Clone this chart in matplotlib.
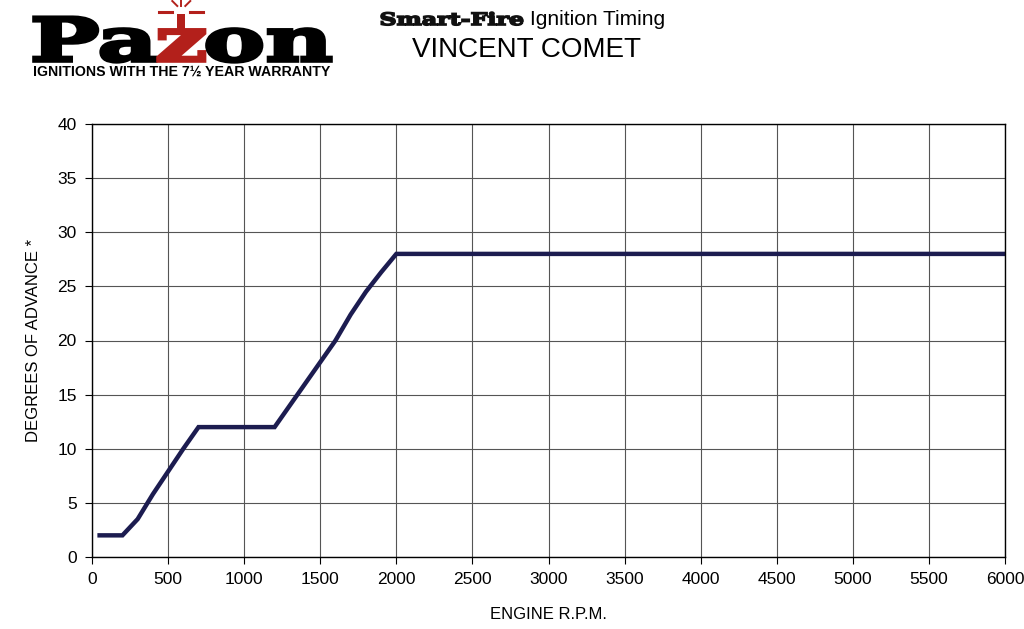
import matplotlib.pyplot as plt
from matplotlib.textpath import TextPath
from matplotlib.patches import PathPatch, Rectangle
from matplotlib.font_manager import FontProperties
from matplotlib.transforms import Affine2D

# advance curve
rpm = [50, 200, 300, 400, 500, 600, 700, 1200, 1300, 1400, 1500, 1600, 1700, 1800, 1900, 2000, 6000]
advance = [2, 2, 3.5, 5.8, 7.9, 10, 12, 12, 14, 16, 18, 20, 22.4, 24.5, 26.3, 28, 28]

x_ticks = list(range(0, 6001, 500))
y_ticks = list(range(0, 41, 5))

plt.rcParams['font.family'] = ['Liberation Sans', 'DejaVu Sans']

fig = plt.figure(figsize=(10.24, 6.29), dpi=100)

# overlay in pixel units for the header artwork
hdr = fig.add_axes([0, 0, 1, 1], zorder=-1)
hdr.set_xlim(0, 1024)
hdr.set_ylim(629, 0)
hdr.axis('off')

slab = FontProperties(family='DejaVu Serif', weight='bold')
RED = '#b3201b'


def word(txt, x0, x1, y_base, size, parts_colors, stroke):
    # lay out pieces of a word as paths, stretched to span x0..x1
    paths = [TextPath((0, 0), t, size=size, prop=slab) for t, _ in parts_colors]
    widths = [p.get_extents().width for p in paths]
    gap = size * 0.04
    sx = (x1 - x0 - gap * (len(paths) - 1)) / sum(widths)
    x = x0
    spans = []
    for p, w, (_, c) in zip(paths, widths, parts_colors):
        e = p.get_extents()
        tr = Affine2D().translate(-e.x0, 0).scale(sx, -1).translate(x, y_base)
        hdr.add_patch(PathPatch(tr.transform_path(p), fc=c, ec=c, lw=stroke,
                                joinstyle='miter'))
        spans.append((x, x + w * sx))
        x += w * sx + gap
    return spans


ax = fig.add_axes([92 / 1024, 1 - 557 / 629, 913 / 1024, 433 / 629])

ax.plot(rpm, advance, color='#1c1c50', lw=3.2, solid_joinstyle='miter')

ax.set_xlim(0, 6000)
ax.set_ylim(0, 40)
ax.set_xticks(x_ticks)
ax.set_yticks(y_ticks)
ax.grid(True, color='#555555', lw=0.8)
ax.tick_params(length=5, width=0.8, labelsize=12.5, colors='black', pad=6)
for s in ax.spines.values():
    s.set_linewidth(1.0)

ax.set_xlabel("ENGINE R.P.M.", fontsize=12, labelpad=14)
ax.set_ylabel("DEGREES OF ADVANCE *", fontsize=12, labelpad=12)

# logo
spans = word("Pazon", 34, 331, 61, 60,
             [("Pa", 'black'), ("z", RED), ("on", 'black')], 2.6)
zc = (spans[1][0] + spans[1][1]) / 2
hdr.add_patch(Rectangle((zc - 4, 14), 8, 18, fc=RED, ec='none'))
hdr.plot([zc - 22, zc - 9], [12, 12], color=RED, lw=2.2)
hdr.plot([zc + 9, zc + 22], [12, 12], color=RED, lw=2.2)
for dx0, dx1, y1, y2 in [(-4, -9, 6, 1), (0, 0, 6, 0), (4, 9, 6, 1)]:
    hdr.plot([zc + dx0, zc + dx1], [y1, y2], color=RED, lw=1.4)
fig.text(182 / 1024, 1 - 76 / 629, "IGNITIONS WITH THE 7½ YEAR WARRANTY", weight='bold',
         fontsize=10.2, va='baseline', ha='center')

# header text
word("Smart-Fire", 381, 523, 25, 17, [("Smart-Fire", '#111111')], 1.2)
fig.text(530 / 1024, 1 - 25 / 629, "Ignition Timing", fontsize=15, va='baseline', ha='left')
fig.text(527 / 1024, 1 - 57 / 629, "VINCENT COMET", fontsize=20, va='baseline', ha='center')

fig.savefig('out.png', dpi=100)
